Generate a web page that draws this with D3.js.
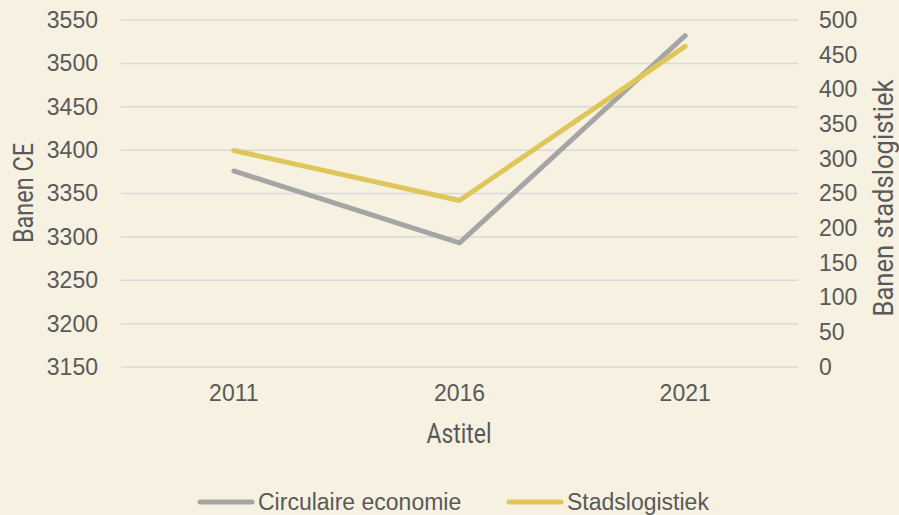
<!DOCTYPE html>
<html>
<head>
<meta charset="utf-8">
<script src="https://cdn.jsdelivr.net/npm/d3@7"></script>
<style>
  body { margin:0; background:#f6f1e0; }
  svg { display:block; }
  .tick text { font-family:"Liberation Sans", Arial, sans-serif; font-size:23px; fill:#595959; }
  .title { font-family:Roboto, sans-serif; font-size:27px; fill:#595959; }
  .leg { font-family:"Liberation Sans", Arial, sans-serif; font-size:23px; fill:#595959; }
</style>
</head>
<body>
<svg class="one"></svg>
<script>
var years = ['2011','2016','2021'];
var circulair = [3376, 3293, 3532];
var stads = [312, 240, 462];
var leftTicks = [3150,3200,3250,3300,3350,3400,3450,3500,3550];
var rightTicks = [0,50,100,150,200,250,300,350,400,450,500];
var seriesNames = ['Circulaire economie','Stadslogistiek'];
var seriesColors = ['#a5a5a5','#dfc65a'];

var svgwidth = 899, svgheight = 515;
var margins = {top:20, bottom:148, left:121, right:101};
var width = svgwidth - margins.left - margins.right;
var height = svgheight - margins.top - margins.bottom;

var svg = d3.select('.one').attr('width',svgwidth).attr('height',svgheight);
svg.append('rect').attr('width',svgwidth).attr('height',svgheight).attr('fill','#f6f1e0');

var g = svg.append('g').attr('transform','translate('+margins.left+','+margins.top+')');

var xScale = d3.scaleBand().domain(years).range([0,width]);
var yLeft = d3.scaleLinear().domain([3150,3550]).range([height,0]);
var yRight = d3.scaleLinear().domain([0,500]).range([height,0]);

// gridlines
g.selectAll('.grid').data(leftTicks).enter().append('line')
  .attr('x1',0).attr('x2',width)
  .attr('y1',function(d){return yLeft(d);}).attr('y2',function(d){return yLeft(d);})
  .attr('stroke','#d9d9d9').attr('stroke-width',1.5);

var noDomain = function(s){ s.select('.domain').remove(); s.attr('font-size',null).attr('font-family',null); };

var yAxisL = d3.axisLeft(yLeft).tickValues(leftTicks).tickFormat(d3.format('d')).tickSize(0).tickPadding(23);
g.append('g').call(yAxisL).call(noDomain);

var yAxisR = d3.axisRight(yRight).tickValues(rightTicks).tickFormat(d3.format('d')).tickSize(0).tickPadding(21);
g.append('g').attr('transform','translate('+width+',0)').call(yAxisR).call(noDomain);

var xAxis = d3.axisBottom(xScale).tickSize(0).tickPadding(18);
g.append('g').attr('transform','translate(0,'+height+')').call(xAxis).call(noDomain);

var lineL = d3.line()
  .x(function(d,i){return xScale(years[i]) + xScale.bandwidth()/2;})
  .y(function(d){return yLeft(d);});
var lineR = d3.line()
  .x(function(d,i){return xScale(years[i]) + xScale.bandwidth()/2;})
  .y(function(d){return yRight(d);});

g.append('path').datum(circulair).attr('d',lineL)
  .attr('fill','none').attr('stroke',seriesColors[0]).attr('stroke-width',5)
  .attr('stroke-linecap','round').attr('stroke-linejoin','round');
g.append('path').datum(stads).attr('d',lineR)
  .attr('fill','none').attr('stroke',seriesColors[1]).attr('stroke-width',5)
  .attr('stroke-linecap','round').attr('stroke-linejoin','round');

// axis titles (narrow font look)
svg.append('text').attr('class','title').attr('text-anchor','middle')
  .attr('x', 459).attr('y', 443)
  .attr('textLength',65).attr('lengthAdjust','spacingAndGlyphs').text('Astitel');
svg.append('text').attr('class','title').attr('text-anchor','middle')
  .attr('transform','translate(33,193) rotate(-90)')
  .attr('textLength',100).attr('lengthAdjust','spacingAndGlyphs').text('Banen CE');
svg.append('text').attr('class','title').attr('text-anchor','middle')
  .attr('transform','translate(893,198) rotate(-90)')
  .attr('textLength',237).attr('lengthAdjust','spacingAndGlyphs').text('Banen stadslogistiek');

// legend
var legX = [200, 509];
var leg = svg.selectAll('.legItem').data(seriesNames).enter().append('g')
  .attr('transform',function(d,i){return 'translate('+legX[i]+',502)';});
leg.append('line').attr('x1',0).attr('x2',52).attr('y1',0).attr('y2',0)
  .attr('stroke',function(d,i){return seriesColors[i];}).attr('stroke-width',5)
  .attr('stroke-linecap','round');
leg.append('text').attr('class','leg').attr('x',58).attr('y',8).text(function(d){return d;});
</script>
</body>
</html>
